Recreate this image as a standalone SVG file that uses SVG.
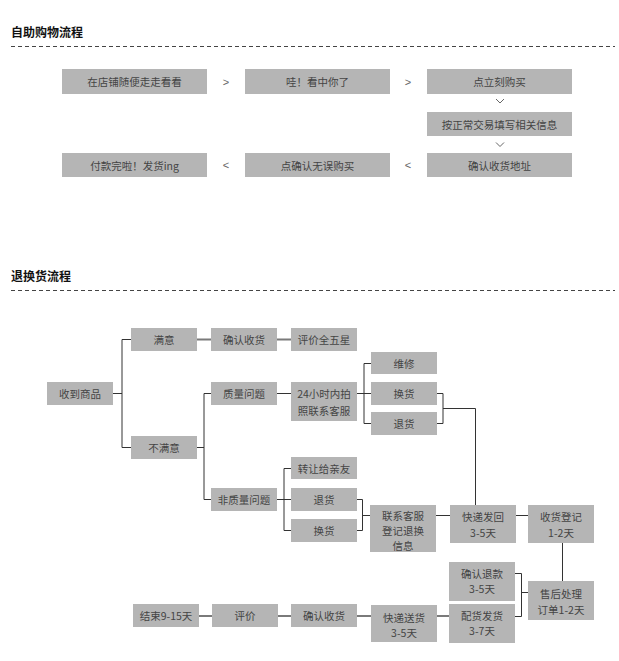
<svg xmlns="http://www.w3.org/2000/svg" width="619" height="661" viewBox="0 0 619 661">
<style>
.bg{fill:#fff}
.box{fill:#b5b5b5}
.t{font-family:"Noto Sans CJK SC","Liberation Sans",sans-serif;font-size:10.5px;fill:#444;text-anchor:middle;dominant-baseline:central}
.title{font-family:"Noto Sans CJK SC","Liberation Sans",sans-serif;font-size:12px;font-weight:bold;fill:#111}
.dash{stroke:#444;stroke-width:1;stroke-dasharray:4 3;fill:none}
.dk{stroke:#333;stroke-width:1;fill:none}
.gr{stroke:#7a7a7a;stroke-width:2;fill:none}
.chev{stroke:#666;stroke-width:1;fill:none}
.sym{font-family:"Liberation Sans",sans-serif;font-size:11px;fill:#666;text-anchor:middle;dominant-baseline:central}
</style>
<rect class="bg" x="0" y="0" width="619" height="661"/>

<text class="title" x="11" y="37">自助购物流程</text>
<line class="dash" x1="11" y1="46.5" x2="615" y2="46.5"/>
<text class="title" x="11" y="281">退换货流程</text>
<line class="dash" x1="11" y1="290.5" x2="615" y2="290.5"/>

<g id="connectors">
  <text class="sym" x="226" y="82">&gt;</text>
  <text class="sym" x="408" y="82">&gt;</text>
  <text class="sym" x="226" y="165">&lt;</text>
  <text class="sym" x="408" y="165">&lt;</text>
  <polyline class="chev" points="496,99 500,103 504,99"/>
  <polyline class="chev" points="496,142.5 500,146.5 504,142.5"/>

  <path class="dk" d="M113,393.5H122M131,339.5H122V447.5H131"/>
  <path class="dk" d="M197,447.5H204M211,393.5H204V499.5H211"/>
  <path class="dk" d="M277,393.5H291"/>
  <path class="dk" d="M357,393.5H371M371,363.5H364V423.5H371"/>
  <path class="dk" d="M437,393.5H443V423.5H437M443,408.5H475.5V505"/>
  <path class="dk" d="M277,499.5H291M291,468.5H284V530.5H291"/>
  <path class="dk" d="M357,499.5H362.5V530.5H357M362.5,515.5H370"/>
  <path class="dk" d="M436,515.5H450M516,515.5H528"/>
  <path class="dk" d="M562.5,543V581"/>
  <path class="dk" d="M515,573.5H521.5V616.5H515M521.5,592.5H528"/>

  <path class="gr" d="M197,339.5H211M277,339.5H291"/>
  <path class="gr" d="M199,616H212M278,616H291M357,616H371M437,616H449"/>
</g>

<g id="n1"><rect class="box" x="62" y="69" width="145" height="25"/><text class="t" x="134.5" y="81.5">在店铺随便走走看看</text></g>
<g id="n2"><rect class="box" x="245" y="69" width="145" height="25"/><text class="t" x="317.5" y="81.5">哇！看中你了</text></g>
<g id="n3"><rect class="box" x="427" y="69" width="145" height="25"/><text class="t" x="499.5" y="81.5">点立刻购买</text></g>
<g id="n4"><rect class="box" x="427" y="112" width="145" height="24"/><text class="t" x="499.5" y="124">按正常交易填写相关信息</text></g>
<g id="n5"><rect class="box" x="427" y="153" width="145" height="24"/><text class="t" x="499.5" y="165">确认收货地址</text></g>
<g id="n6"><rect class="box" x="245" y="153" width="145" height="24"/><text class="t" x="317.5" y="165">点确认无误购买</text></g>
<g id="n7"><rect class="box" x="62" y="153" width="145" height="24"/><text class="t" x="134.5" y="165">付款完啦！发货ing</text></g>

<g id="r1"><rect class="box" x="47" y="382" width="66" height="23"/><text class="t" x="80" y="393.5">收到商品</text></g>
<g id="r2"><rect class="box" x="131" y="328" width="66" height="23"/><text class="t" x="164" y="339.5">满意</text></g>
<g id="r3"><rect class="box" x="131" y="436" width="66" height="23"/><text class="t" x="164" y="447.5">不满意</text></g>
<g id="r4"><rect class="box" x="211" y="328" width="66" height="23"/><text class="t" x="244" y="339.5">确认收货</text></g>
<g id="r5"><rect class="box" x="291" y="328" width="66" height="23"/><text class="t" x="324" y="339.5">评价全五星</text></g>
<g id="r6"><rect class="box" x="211" y="382" width="66" height="23"/><text class="t" x="244" y="393.5">质量问题</text></g>
<g id="r7"><rect class="box" x="291" y="382" width="66" height="39"/><text class="t" x="324" y="393.5">24小时内拍</text><text class="t" x="324" y="410">照联系客服</text></g>
<g id="r8"><rect class="box" x="371" y="352" width="66" height="22"/><text class="t" x="404" y="363">维修</text></g>
<g id="r9"><rect class="box" x="371" y="382" width="66" height="23"/><text class="t" x="404" y="393.5">换货</text></g>
<g id="r10"><rect class="box" x="371" y="412" width="66" height="23"/><text class="t" x="404" y="423.5">退货</text></g>
<g id="r11"><rect class="box" x="211" y="488" width="66" height="23"/><text class="t" x="244" y="499.5">非质量问题</text></g>
<g id="r12"><rect class="box" x="291" y="457" width="66" height="22"/><text class="t" x="324" y="468">转让给亲友</text></g>
<g id="r13"><rect class="box" x="291" y="488" width="66" height="23"/><text class="t" x="324" y="499.5">退货</text></g>
<g id="r14"><rect class="box" x="291" y="519" width="66" height="23"/><text class="t" x="324" y="530.5">换货</text></g>
<g id="r15"><rect class="box" x="370" y="505" width="66" height="47"/><text class="t" x="403" y="515">联系客服</text><text class="t" x="403" y="530">登记退换</text><text class="t" x="403" y="545">信息</text></g>
<g id="r16"><rect class="box" x="450" y="505" width="66" height="38"/><text class="t" x="483" y="516.5">快递发回</text><text class="t" x="483" y="532">3-5天</text></g>
<g id="r17"><rect class="box" x="528" y="505" width="66" height="38"/><text class="t" x="561" y="516.5">收货登记</text><text class="t" x="561" y="532">1-2天</text></g>
<g id="r18"><rect class="box" x="528" y="581" width="66" height="39"/><text class="t" x="561" y="593">售后处理</text><text class="t" x="561" y="609">订单1-2天</text></g>
<g id="r19"><rect class="box" x="449" y="562" width="66" height="39"/><text class="t" x="482" y="573.5">确认退款</text><text class="t" x="482" y="588.5">3-5天</text></g>
<g id="r20"><rect class="box" x="449" y="604" width="66" height="39"/><text class="t" x="482" y="615.5">配货发货</text><text class="t" x="482" y="630">3-7天</text></g>
<g id="r21"><rect class="box" x="371" y="605" width="66" height="37"/><text class="t" x="404" y="617">快递送货</text><text class="t" x="404" y="632">3-5天</text></g>
<g id="r22"><rect class="box" x="291" y="604" width="66" height="23"/><text class="t" x="324" y="615.5">确认收货</text></g>
<g id="r23"><rect class="box" x="212" y="604" width="66" height="23"/><text class="t" x="245" y="615.5">评价</text></g>
<g id="r24"><rect class="box" x="133" y="604" width="66" height="23"/><text class="t" x="166" y="615.5">结束9-15天</text></g>
</svg>
